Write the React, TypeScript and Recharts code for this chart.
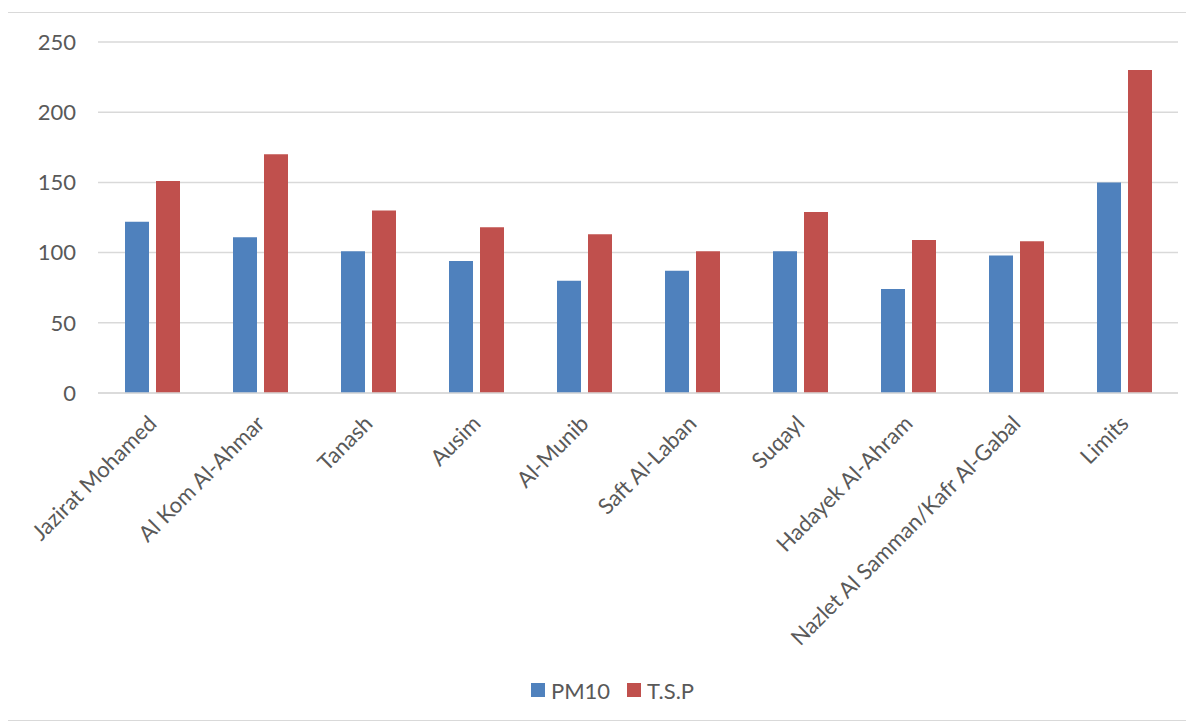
import React from 'react';
import { BarChart, Bar, XAxis, YAxis, CartesianGrid, Legend } from 'recharts';

const sites = [
  'Jazirat Mohamed',
  'Al Kom Al-Ahmar',
  'Tanash',
  'Ausim',
  'Al-Munib',
  'Saft Al-Laban',
  'Suqayl',
  'Hadayek Al-Ahram',
  'Nazlet Al Samman/Kafr Al-Gabal',
  'Limits',
];
const pm10 = [122, 111, 101, 94, 80, 87, 101, 74, 98, 150];
const tsp = [151, 170, 130, 118, 113, 101, 129, 109, 108, 230];
const yTicks = [0, 50, 100, 150, 200, 250];

const data = sites.map((site, i) => ({ site, pm10: pm10[i], tsp: tsp[i] }));

const FONT = 'Lato, "Liberation Sans", sans-serif';
const TEXT = '#595959';

function SiteTick(props: any) {
  const { x, y, payload } = props;
  const ax = x + 6;
  const ay = y + 30;
  return (
    <text
      x={ax}
      y={ay}
      transform={`rotate(-45 ${ax} ${ay})`}
      textAnchor="end"
      fill={TEXT}
      fontSize={22}
      fontFamily={FONT}
    >
      {payload.value}
    </text>
  );
}

function LegendBox(props: any) {
  const items = props.payload || [];
  return (
    <div style={{ display: 'flex', justifyContent: 'center', alignItems: 'center', height: 40, paddingLeft: 56 }}>
      {items.map((it: any) => (
        <div key={it.value} style={{ display: 'flex', alignItems: 'center', marginRight: 17 }}>
          <span style={{ width: 14, height: 14, background: it.color, marginRight: 6, display: 'inline-block' }} />
          <span style={{ color: TEXT, fontSize: 22, fontFamily: FONT }}>{it.value}</span>
        </div>
      ))}
    </div>
  );
}

export default function App() {
  return (
    <div
      style={{
        width: 1178,
        height: 707,
        margin: '4px 0 0 -1px',
        border: '1px solid #d9d9d9',
        background: '#fff',
        fontFamily: FONT,
      }}
    >
      <BarChart
        width={1178}
        height={707}
        data={data}
        margin={{ top: 29, right: 8, left: 0, bottom: 10 }}
        barGap={7}
        barSize={24}
      >
        <CartesianGrid vertical={false} stroke="#d9d9d9" strokeWidth={1.5} />
        <XAxis
          dataKey="site"
          interval={0}
          height={277}
          tickLine={false}
          tickSize={0}
          tick={<SiteTick />}
          axisLine={{ stroke: '#d9d9d9', strokeWidth: 1.5 }}
        />
        <YAxis
          width={90}
          domain={[0, 250]}
          ticks={yTicks}
          axisLine={false}
          tickLine={false}
          tickSize={0}
          tickMargin={22}
          tick={{ fill: TEXT, fontSize: 22, fontFamily: FONT }}
        />
        <Legend verticalAlign="bottom" height={40} content={<LegendBox />} />
        <Bar dataKey="pm10" name="PM10" fill="#4F81BD" isAnimationActive={false} />
        <Bar dataKey="tsp" name="T.S.P" fill="#C0504D" isAnimationActive={false} />
      </BarChart>
    </div>
  );
}
